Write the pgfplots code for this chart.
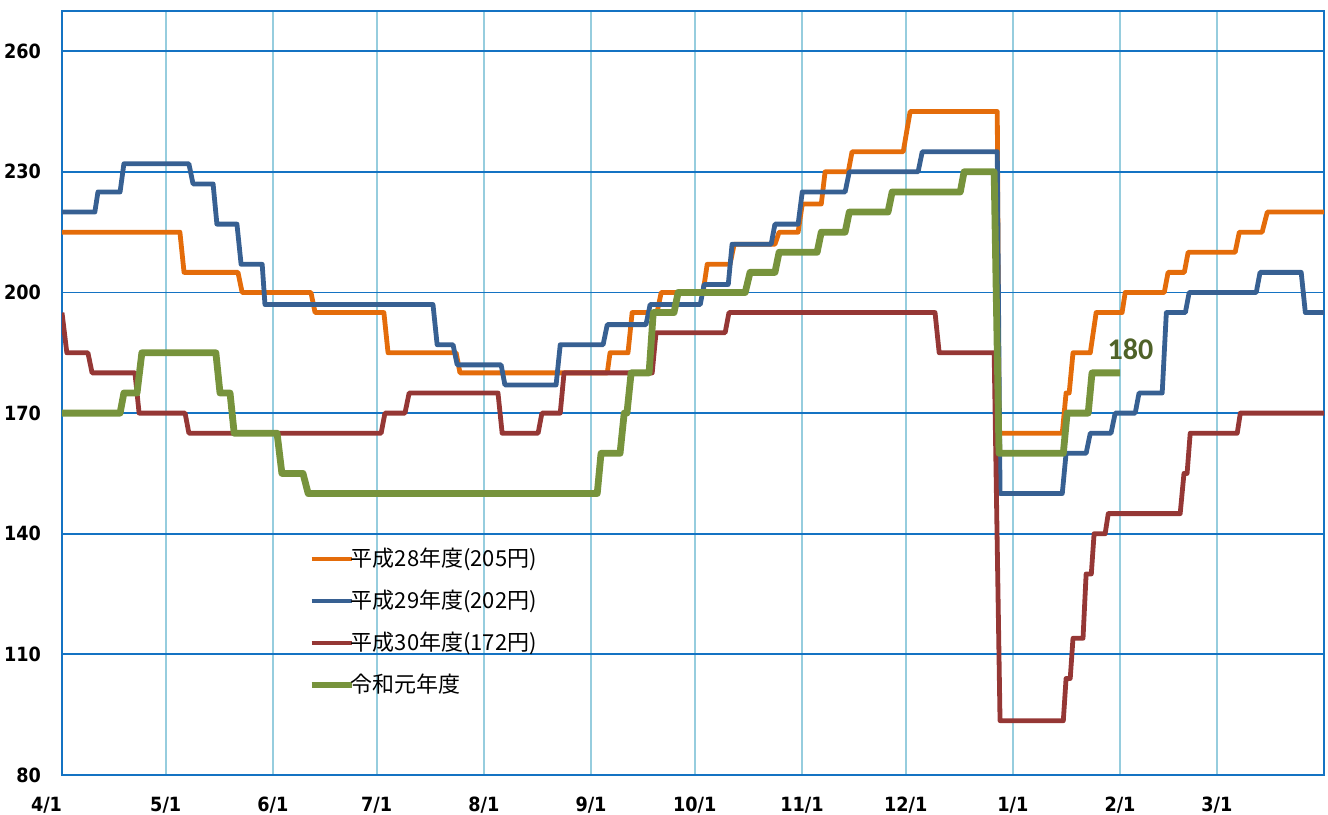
\documentclass[border=0pt]{standalone}
\usepackage{fontspec}
\usepackage{pgfplots}
\pgfplotsset{compat=1.18}
\setmainfont{DejaVu Sans}
\newfontfamily\tickfont{DejaVu Sans Condensed}[BoldFont={DejaVu Sans Condensed Bold}]
\newfontfamily\cjk{Noto Sans CJK JP}
\newfontfamily\labfont{Carlito}
\definecolor{c28}{RGB}{228,108,10}
\definecolor{c29}{RGB}{55,96,146}
\definecolor{c30}{RGB}{149,55,53}
\definecolor{cR1}{RGB}{119,147,60}
\definecolor{clab}{RGB}{79,98,40}
\definecolor{axisblue}{RGB}{20,115,195}
\definecolor{vgrid}{RGB}{150,205,222}
\begin{document}
\begin{tikzpicture}
\useasboundingbox (-31pt,-19.5pt) rectangle (633pt,387.5pt);
\begin{axis}[
  scale only axis, width=631pt, height=382pt,
  at={(0pt,0pt)}, anchor=south west,
  xmin=0, xmax=365, ymin=80, ymax=270,
  xtick={0,30,61,91,122,153,183,214,244,275,306,334},
  xticklabels={\makebox[0pt][r]{4/1},5/1,6/1,7/1,8/1,9/1,10/1,11/1,12/1,1/1,2/1,3/1},
  ytick={80,110,140,170,200,230,260},
  major tick length=0pt,
  xmajorgrids, ymajorgrids,
  x grid style={color=vgrid, line width=0.9pt},
  y grid style={color=axisblue, line width=0.9pt},
  axis line style={color=axisblue, line width=1pt},
  tick label style={font=\tickfont\bfseries\fontsize{9.8}{11}\selectfont},
  /pgf/number format/assume math mode=true,
  yticklabel style={xshift=-7pt},
  xticklabel style={yshift=-7.5pt},
  legend cell align=left,
  legend image code/.code={\draw[#1] (0pt,0pt) -- (20pt,0pt);},
  legend style={draw=none, fill=none, inner sep=0pt, outer sep=0pt,
    font=\cjk\fontsize{11}{13}\selectfont,
    nodes={inner sep=0pt, text height=10pt, text depth=3pt, anchor=west},
    row sep=8pt, column sep=-2pt,
    at={(rel axis cs:0.1950,0.2997)}, anchor=north west},
]
\addplot[c28, line width=2.4pt, line join=round] coordinates {
(0,215) (34.1,215) (35.3,205) (50.9,205) (52.1,200) (72.0,200) (73.2,195)
(93.1,195) (94.3,185) (114.0,185) (115.1,180) (157.7,180) (158.5,185)
(163.7,185) (164.9,195) (172.1,195) (173.3,200) (185.4,200) (186.6,207)
(193.2,207) (194.4,212) (206.2,212) (207.4,215) (212.9,215) (214.1,222)
(219.6,222) (220.7,230) (227.4,230) (228.5,235) (243.3,235) (245.3,245)
(270.5,245) (271.0,165) (289.3,165) (290.4,175) (291.3,175) (292.4,185)
(297.4,185) (299.1,195) (306.6,195) (307.5,200) (318.8,200) (319.9,205)
(324.6,205) (325.7,210) (339.3,210) (340.5,215) (347.1,215) (348.6,220)
(365,220)};
\addlegendentry{平成28年度(205円)}
\addplot[c29, line width=2.4pt, line join=round] coordinates {
(0,220) (9.5,220) (10.4,225) (16.8,225) (17.9,232) (36.7,232) (37.9,227)
(43.7,227) (44.8,217) (50.6,217) (51.8,207) (57.9,207) (58.7,197)
(107.3,197) (108.5,187) (113.1,187) (114.3,182) (127.0,182) (128.1,177)
(142.9,177) (144.1,187) (156.5,187) (157.7,192) (168.9,192) (170.1,197)
(184.6,197) (185.7,202) (192.7,202) (193.8,212) (205.1,212) (206.2,217)
(212.9,217) (214.1,225) (226.5,225) (227.7,230) (247.6,230) (248.8,235)
(270.5,235) (271.3,150) (289.3,150) (290.4,160) (296.2,160) (297.4,165)
(303.4,165) (304.6,170) (310.4,170) (311.5,175) (318.2,175) (319.4,195)
(324.9,195) (326.0,200) (345.4,200) (346.5,205) (358.4,205) (359.6,195)
(365,195)};
\addlegendentry{平成29年度(202円)}
\addplot[c30, line width=2.4pt, line join=round] coordinates {
(0,195) (1.4,185) (7.5,185) (8.7,180) (21.1,180) (22.3,170) (35.6,170)
(36.7,165) (92.3,165) (93.4,170) (99.2,170) (100.4,175) (126.1,175)
(127.3,165) (137.7,165) (138.8,170) (144.1,170) (145.2,180) (170.7,180)
(171.8,190) (191.8,190) (192.9,195) (252.5,195) (253.7,185) (269.6,185)
(271.3,93.5) (289.6,93.5) (290.4,104) (291.6,104) (292.4,114) (295.3,114)
(296.2,130) (297.7,130) (298.5,140) (301.7,140) (302.6,145) (323.4,145)
(324.5,155) (325.4,155) (326.3,165) (339.9,165) (340.8,170) (365,170)};
\addlegendentry{平成30年度(172円)}
\addplot[cR1, line width=3.4pt, line join=round] coordinates {
(0,170) (16.8,170) (17.9,175) (21.7,175) (23.1,185) (44.5,185) (45.7,175)
(48.6,175) (49.8,165) (62.2,165) (63.6,155) (69.7,155) (71.2,150)
(154.8,150) (155.9,160) (161.4,160) (162.6,170) (163.4,170) (164.6,180)
(169.8,180) (171.0,195) (177.0,195) (178.2,200) (197.6,200) (199.0,205)
(206.2,205) (207.4,210) (218.4,210) (219.6,215) (226.5,215) (227.7,220)
(238.9,220) (240.1,225) (259.8,225) (260.9,230) (269.6,230) (271.0,160)
(289.6,160) (290.7,170) (296.8,170) (297.9,180) (306.0,180)};
\addlegendentry{令和元年度}
\node[font=\labfont\bfseries\fontsize{15}{18}\selectfont, text=clab] at (axis cs:309,186) {180};
\end{axis}
\end{tikzpicture}
\end{document}
